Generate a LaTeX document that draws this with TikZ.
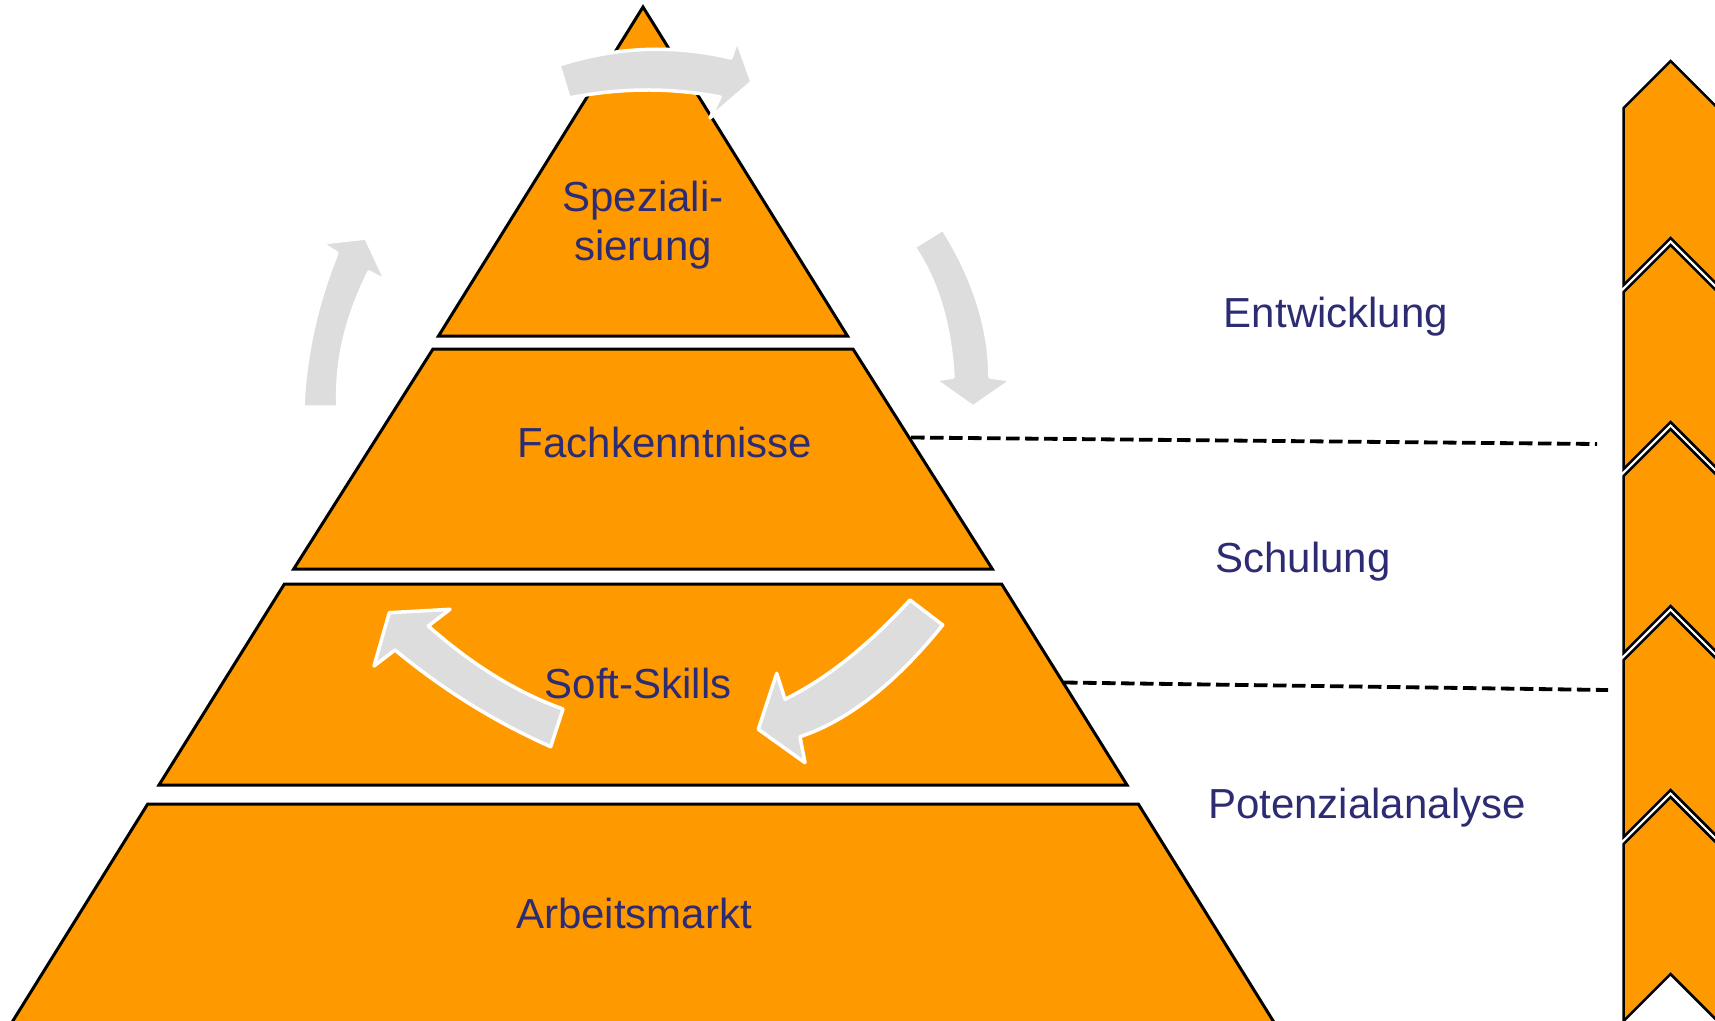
\documentclass[tikz,border=0pt]{standalone}
\usepackage{fontspec}
\setmainfont{Liberation Sans}
\definecolor{pyr}{RGB}{255,153,0}
\definecolor{arr}{RGB}{221,221,221}
\definecolor{txt}{RGB}{45,44,115}
\begin{document}
\begin{tikzpicture}[x=1pt,y=-1pt,
  layer/.style={fill=pyr,draw=black,line width=3pt,line join=miter},
  chev/.style={fill=pyr,draw=black,line width=2.5pt,line join=miter},
  garrow/.style={fill=arr,draw=white,line width=3.5pt,line join=round},
  lbl/.style={text=txt,font=\fontsize{42}{50}\selectfont,inner sep=0pt,anchor=base},
  dashline/.style={draw=black,line width=3.8pt,dash pattern=on 13.5pt off 5.5pt}]
\useasboundingbox (0,0) rectangle (1715,1020);
\clip (0,0) rectangle (1715,1020);

% pyramid layers
\path[layer] (643,7) -- (847.5,336) -- (438.5,336) -- cycle;
\path[layer] (433,349) -- (853,349) -- (992.3,569) -- (293.7,569) -- cycle;
\path[layer] (284.4,584) -- (1001.6,584) -- (1127,785) -- (159,785) -- cycle;
\path[layer] (147.7,804) -- (1138.3,804) -- (1278.8,1030) -- (7.2,1030) -- cycle;

% curved block arrows
\path[garrow] (559,65) .. controls (616.3,46.7) and (673.7,44.3) .. (731,58) -- (737,40) -- (752,82)
  -- (710,118) -- (720,97) .. controls (670.3,87.3) and (620,87.7) .. (569,98) -- cycle;
\path[garrow] (303,407) .. controls (305,355.7) and (316.3,304.3) .. (337,253) -- (321,243) -- (366,238)
  -- (386,281) -- (369,272) .. controls (346,317.7) and (335.7,362.7) .. (338,407) -- cycle;
\path[garrow] (914,247) -- (943,229) .. controls (974,278.3) and (989.7,327.7) .. (990,377) -- (1012,380)
  -- (973,407) -- (935,380) -- (953,377) .. controls (950,324.3) and (937,281) .. (914,247) -- cycle;
\path[garrow] (563,709) .. controls (517.2,692.7) and (472.3,665) .. (428.3,626) -- (450,609.3)
  -- (389.3,612.7) -- (374,666) -- (395,650) .. controls (443.1,689.8) and (495,722) .. (550.7,746.7) -- cycle;
\path[garrow] (910,600) .. controls (868.3,645.6) and (826.7,678.7) .. (785,699.3) -- (776.7,673.3)
  -- (758.3,729.3) -- (805,762.7) -- (800,736.7) .. controls (847.6,721) and (895.2,683.8) .. (942.7,625) -- cycle;

% labels
\node[lbl] (spez1) at (643,211) {Speziali-};
\node[lbl] (spez2) at (643,260) {sierung};
\node[lbl] (fach) at (665,457) {Fachkenntnisse};
\node[lbl] (soft) at (638,698) {Soft-Skills};
\node[lbl] (arbeit) at (634,928) {Arbeitsmarkt};
\node[lbl] (entw) at (1336,327) {Entwicklung};
\node[lbl] (schul) at (1303,572.5) {Schulung};
\node[lbl] (pot) at (1367,818.5) {Potenzialanalyse};

% dashed separators
\coordinate (d1a) at (911,437.5);
\coordinate (d1b) at (1597,444);
\coordinate (d2a) at (1064,682.5);
\coordinate (d2b) at (1608,690);
\draw[dashline] (d1a) -- (d1b);
\draw[dashline] (d2a) -- (d2b);

% chevron column
\foreach \a in {61,245,429,613,797} {
  \path[chev] (1670.5,\a) -- (1717.5,\a+47) -- (1717.5,\a+224) -- (1670.5,\a+177)
    -- (1623.5,\a+224) -- (1623.5,\a+47) -- cycle;
}
\end{tikzpicture}
\end{document}
